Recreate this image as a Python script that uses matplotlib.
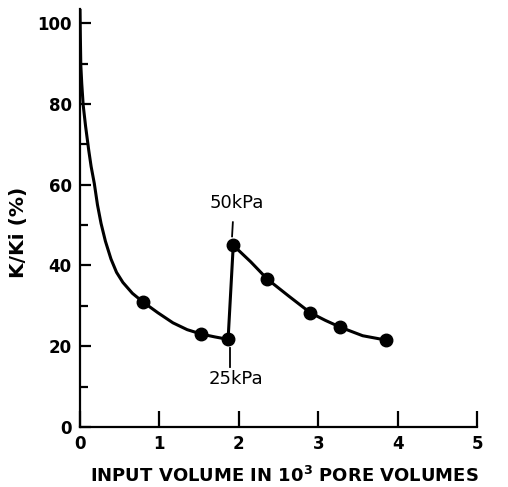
import matplotlib
matplotlib.use("Agg")
import matplotlib.pyplot as plt
from matplotlib.ticker import MultipleLocator

# curve (x in 10^3 pore volumes, y in %)
curve1_x = [0.0, 0.004, 0.01, 0.022, 0.04, 0.07, 0.11, 0.14, 0.18, 0.22, 0.265,
            0.32, 0.39, 0.46, 0.54, 0.66, 0.79, 0.98, 1.17, 1.35, 1.53, 1.70, 1.865]
curve1_y = [103.5, 97, 89.6, 85, 79.7, 74.5, 68.5, 64.5, 60.3, 55.0, 50.4,
            46.0, 41.6, 38.3, 35.8, 33.1, 31.0, 28.3, 25.8, 24.1, 23.0, 22.3, 21.7]
curve2_x = [1.865, 1.93, 2.15, 2.36, 2.63, 2.90, 3.09, 3.28, 3.56, 3.86]
curve2_y = [21.7, 45.0, 40.9, 36.6, 32.4, 28.3, 26.4, 24.7, 22.6, 21.5]

# measured points
pts_x = [0.79, 1.53, 1.865, 1.93, 2.36, 2.90, 3.28, 3.86]
pts_y = [31.0, 23.0, 21.7, 45.0, 36.6, 28.3, 24.7, 21.5]

fig = plt.figure(figsize=(5.08, 4.87), dpi=100)
ax = fig.add_axes([0.1575, 0.1232, 0.7815, 0.8583])

ax.plot(curve1_x, curve1_y, color="black", lw=2.2, solid_joinstyle="round")
ax.plot(curve2_x, curve2_y, color="black", lw=2.2, solid_joinstyle="round")
ax.plot(pts_x, pts_y, "o", color="black", ms=9)

# pressure labels with small leader lines
ax.plot([1.925, 1.915], [50.7, 47.2], color="black", lw=1.3)
ax.text(1.97, 55.4, "50kPa", ha="center", va="center", fontsize=13)
ax.plot([1.885, 1.885], [19.6, 14.9], color="black", lw=1.3)
ax.text(1.96, 11.8, "25kPa", ha="center", va="center", fontsize=13)

ax.set_xlim(0, 5)
ax.set_ylim(0, 103.5)
ax.xaxis.set_major_locator(MultipleLocator(1))
ax.set_yticks([0, 20, 40, 60, 80, 100])
ax.yaxis.set_minor_locator(MultipleLocator(10))

for s in ["top", "right"]:
    ax.spines[s].set_visible(False)
for s in ["left", "bottom"]:
    ax.spines[s].set_linewidth(1.6)

ax.tick_params(axis="x", direction="in", length=11.5, width=1.6, pad=6, labelsize=12)
ax.tick_params(axis="y", which="major", direction="in", length=8, width=1.6, pad=6, labelsize=12)
ax.tick_params(axis="y", which="minor", direction="in", length=6, width=1.6)
for lab in ax.get_xticklabels() + ax.get_yticklabels():
    lab.set_fontweight("bold")

ax.set_ylabel("K/Ki (%)", fontsize=14.5, fontweight="bold")
ax.yaxis.set_label_coords(-0.13, 0.466)
ax.set_xlabel("INPUT VOLUME IN 10$^{\\mathbf{3}}$ PORE VOLUMES", fontsize=13, fontweight="bold")
ax.xaxis.set_label_coords(0.516, -0.093)

fig.savefig("out.png", dpi=100)
